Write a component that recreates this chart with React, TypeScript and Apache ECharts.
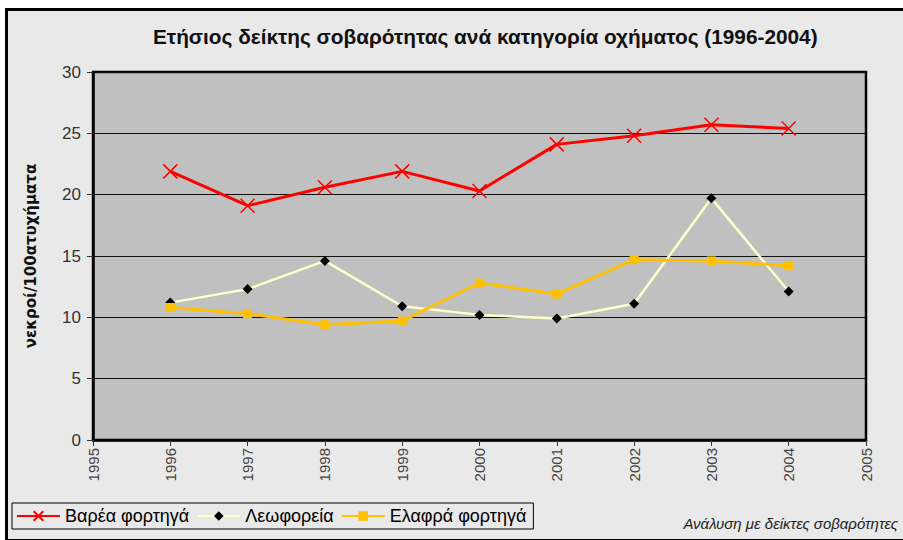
import React, { useEffect, useRef } from "react";
import * as echarts from "echarts";

const titleText = "Ετήσιος δείκτης σοβαρότητας ανά κατηγορία οχήματος (1996-2004)";
const yAxisName = "νεκροί/100ατυχήματα";
const footnote = "Ανάλυση με δείκτες σοβαρότητες";
const seriesNames = ["Βαρέα φορτηγά", "Λεωφορεία", "Ελαφρά φορτηγά"];
const years = [1996, 1997, 1998, 1999, 2000, 2001, 2002, 2003, 2004];
const heavyTrucks = [21.9, 19.1, 20.6, 21.9, 20.3, 24.1, 24.8, 25.7, 25.4];
const buses = [11.2, 12.3, 14.6, 10.9, 10.2, 9.9, 11.1, 19.7, 12.1];
const lightTrucks = [10.8, 10.3, 9.4, 9.7, 12.8, 11.9, 14.7, 14.6, 14.2];

const pair = (arr: number[]) => years.map((y, i) => [y, arr[i]]);

export default function App() {
  const ref = useRef<HTMLDivElement>(null);
  useEffect(() => {
    if (!ref.current) return;
    const chart = echarts.init(ref.current, null, { renderer: "svg" });
    const font = "Arial, 'Liberation Sans', sans-serif";
    chart.setOption({
      animation: false,
      backgroundColor: "transparent",
      textStyle: { fontFamily: font },
      title: {
        text: titleText,
        left: 148,
        top: 21,
        textStyle: { fontSize: 20.8, fontWeight: "bold", color: "#111", fontFamily: font },
      },
      legend: {
        left: 12,
        top: 503,
        orient: "horizontal",
        borderColor: "#000",
        borderWidth: 1,
        padding: [4, 7, 4, 4],
        itemWidth: 43,
        itemHeight: 12,
        itemGap: 7,
        textStyle: { fontSize: 18, color: "#000", fontFamily: font },
        data: seriesNames,
      },
      grid: {
        left: 93,
        right: 37,
        top: 72,
        bottom: 100,
        show: true,
        backgroundColor: "#c0c0c0",
        borderColor: "#000",
        borderWidth: 2.5,
      },
      xAxis: {
        type: "value",
        min: 1995,
        max: 2005,
        interval: 1,
        splitLine: { show: false },
        axisLine: { show: true, lineStyle: { color: "#000", width: 2.5 } },
        axisTick: { show: true, inside: false, length: 6, lineStyle: { color: "#333" } },
        axisLabel: {
          rotate: 90,
          margin: 8,
          fontSize: 15,
          color: "#444",
          fontFamily: font,
          formatter: (v: number) => String(v),
        },
      },
      yAxis: {
        type: "value",
        min: 0,
        max: 30,
        interval: 5,
        name: yAxisName,
        nameLocation: "middle",
        nameGap: 55,
        nameRotate: 90,
        nameTextStyle: { fontSize: 15, fontWeight: "bold", color: "#111", fontFamily: "'DejaVu Sans', sans-serif" },
        splitLine: { show: true, lineStyle: { color: "#111", width: 1.2 } },
        axisLine: { show: true, lineStyle: { color: "#000", width: 2.5 } },
        axisTick: { show: true, inside: false, length: 6, lineStyle: { color: "#333" } },
        axisLabel: { margin: 12, fontSize: 17, color: "#333", fontFamily: font },
      },
      series: [
        {
          name: seriesNames[0],
          type: "line",
          data: pair(heavyTrucks),
          symbol: "path://M0,0L10,10M10,0L0,10",
          symbolSize: 14,
          lineStyle: { color: "#ff0000", width: 3 },
          itemStyle: { color: "#ff0000", borderColor: "#ff0000", borderWidth: 1.5 },
          z: 3,
        },
        {
          name: seriesNames[1],
          type: "line",
          data: pair(buses),
          symbol: "diamond",
          symbolSize: 10,
          lineStyle: { color: "#ffffc8", width: 2.5 },
          itemStyle: { color: "#000000" },
          z: 2,
        },
        {
          name: seriesNames[2],
          type: "line",
          data: pair(lightTrucks),
          symbol: "rect",
          symbolSize: 9,
          lineStyle: { color: "#ffc000", width: 3 },
          itemStyle: { color: "#ffc000" },
          z: 2,
        },
      ],
      graphic: [
        {
          type: "text",
          right: 5,
          top: 516,
          style: {
            text: footnote,
            fontSize: 15,
            fontStyle: "italic",
            fill: "#222",
            fontFamily: font,
          },
        },
      ],
    });
    return () => chart.dispose();
  }, []);

  return (
    <div
      style={{
        position: "fixed",
        left: 0,
        top: 0,
        width: 903,
        height: 540,
        background: "#ffffff",
        overflow: "hidden",
      }}
    >
      <div
        style={{
          position: "absolute",
          left: 5,
          top: 8,
          width: 915,
          height: 528,
          border: "3px solid #000",
          background: "#e9e9e9",
        }}
      />
      <div ref={ref} style={{ position: "absolute", left: 0, top: 0, width: 903, height: 540 }} />
    </div>
  );
}
